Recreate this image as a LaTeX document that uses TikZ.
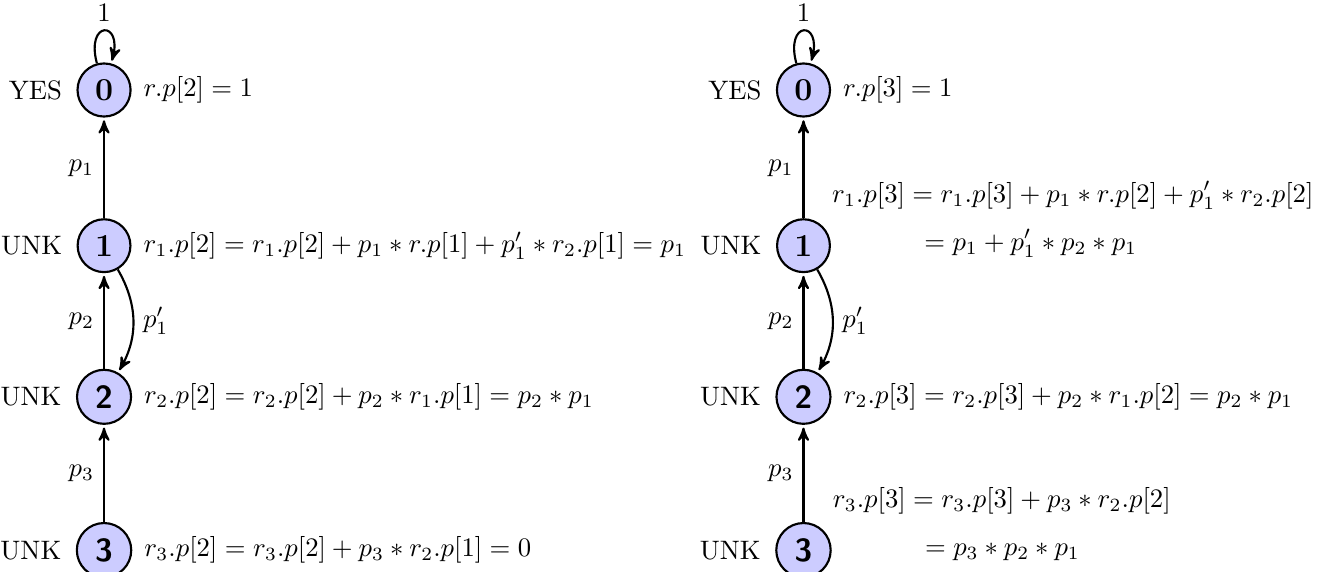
\documentclass[tikz,border=0pt]{standalone}
\usepackage{amsmath}
\usetikzlibrary{positioning, arrows}

\tikzset{
  stnode/.style={circle, draw, thick, fill=blue!20, font=\large\bfseries},
  eqlabel/.style={inner sep=0pt, anchor=west},
}

\begin{document}
\begin{tikzpicture}[>=stealth', shorten >=1pt, thick]
	% 0. 画布范围 (与原图比例一致)
	\useasboundingbox (-1.37,1.185) rectangle (16.13,-6.335);

	% 1. 左侧：第二轮
	\node[stnode] (a0) at (0,0) {0};
	\node[stnode] (a1) at (0,-2.05) {1};
	\node[stnode] (a2) at (0,-4.04) {\sffamily 2};
	\node[stnode] (a3) at (0,-6.06) {\sffamily 3};

	\node[left=1.7pt of a0] (ya0) {YES};
	\node[left=1.7pt of a1] (ua1) {UNK};
	\node[left=1.7pt of a2] (ua2) {UNK};
	\node[left=1.7pt of a3] (ua3) {UNK};

	\node[right=0.8pt of a0] (ea0) {$r.p[2] = 1$};
	\node[right=0.8pt of a1] (ea1) {$r_1.p[2] = r_1.p[2] + p_1 * r.p[1] + p'_1 * r_2.p[1] = p_1$};
	\node[right=0.8pt of a2] (ea2) {$r_2.p[2] = r_2.p[2] + p_2 * r_1.p[1] = p_2 * p_1$};
	\node[right=0.8pt of a3] (ea3) {$r_3.p[2] = r_3.p[2] + p_3 * r_2.p[1] = 0$};

	\draw[->] (a0) edge[loop above] node[above] {1} (a0);
	\draw[->] (a1) -- node[left] {$p_1$} (a0);
	\draw[->] (a2) -- node[left] {$p_2$} (a1);
	\draw[->] (a1) to[bend left] node[right] {$p'_1$} (a2);
	\draw[->] (a3) -- node[left] {$p_3$} (a2);

	% 2. 右侧：第三轮
	\node[stnode] (b0) at (9.21,0) {0};
	\node[stnode] (b1) at (9.21,-2.05) {1};
	\node[stnode] (b2) at (9.21,-4.04) {\sffamily 2};
	\node[stnode] (b3) at (9.21,-6.06) {\sffamily 3};

	\node[left=1.7pt of b0] (yb0) {YES};
	\node[left=1.7pt of b1] (ub1) {UNK};
	\node[left=1.7pt of b2] (ub2) {UNK};
	\node[left=1.7pt of b3] (ub3) {UNK};

	\node[right=0.8pt of b0] (eb0) {$r.p[3] = 1$};
	\node[eqlabel] (eb1) at ([yshift=9.5pt]b1.east)
		{$\begin{aligned} r_1.p[3] &= r_1.p[3] + p_1 * r.p[2] + p'_1 * r_2.p[2]\\[3pt]
		&\;\,= p_1 + p'_1 * p_2 * p_1 \end{aligned}$};
	\node[right=0.8pt of b2] (eb2) {$r_2.p[3] = r_2.p[3] + p_2 * r_1.p[2] = p_2 * p_1$};
	\node[eqlabel] (eb3) at ([yshift=9.5pt]b3.east)
		{$\begin{aligned} r_3.p[3] &= r_3.p[3] + p_3 * r_2.p[2]\\[3pt]
		&\;\,= p_3 * p_2 * p_1 \end{aligned}$};

	\draw[->] (b0) edge[loop above] node[above] {1} (b0);
	\draw[->] (b1) -- node[left] {$p_1$} (b0);
	\draw[->] (b2) -- node[left] {$p_2$} (b1);
	\draw[->] (b1) to[bend left] node[right] {$p'_1$} (b2);
	\draw[->] (b3) -- node[left] {$p_3$} (b2);
\end{tikzpicture}
\end{document}
